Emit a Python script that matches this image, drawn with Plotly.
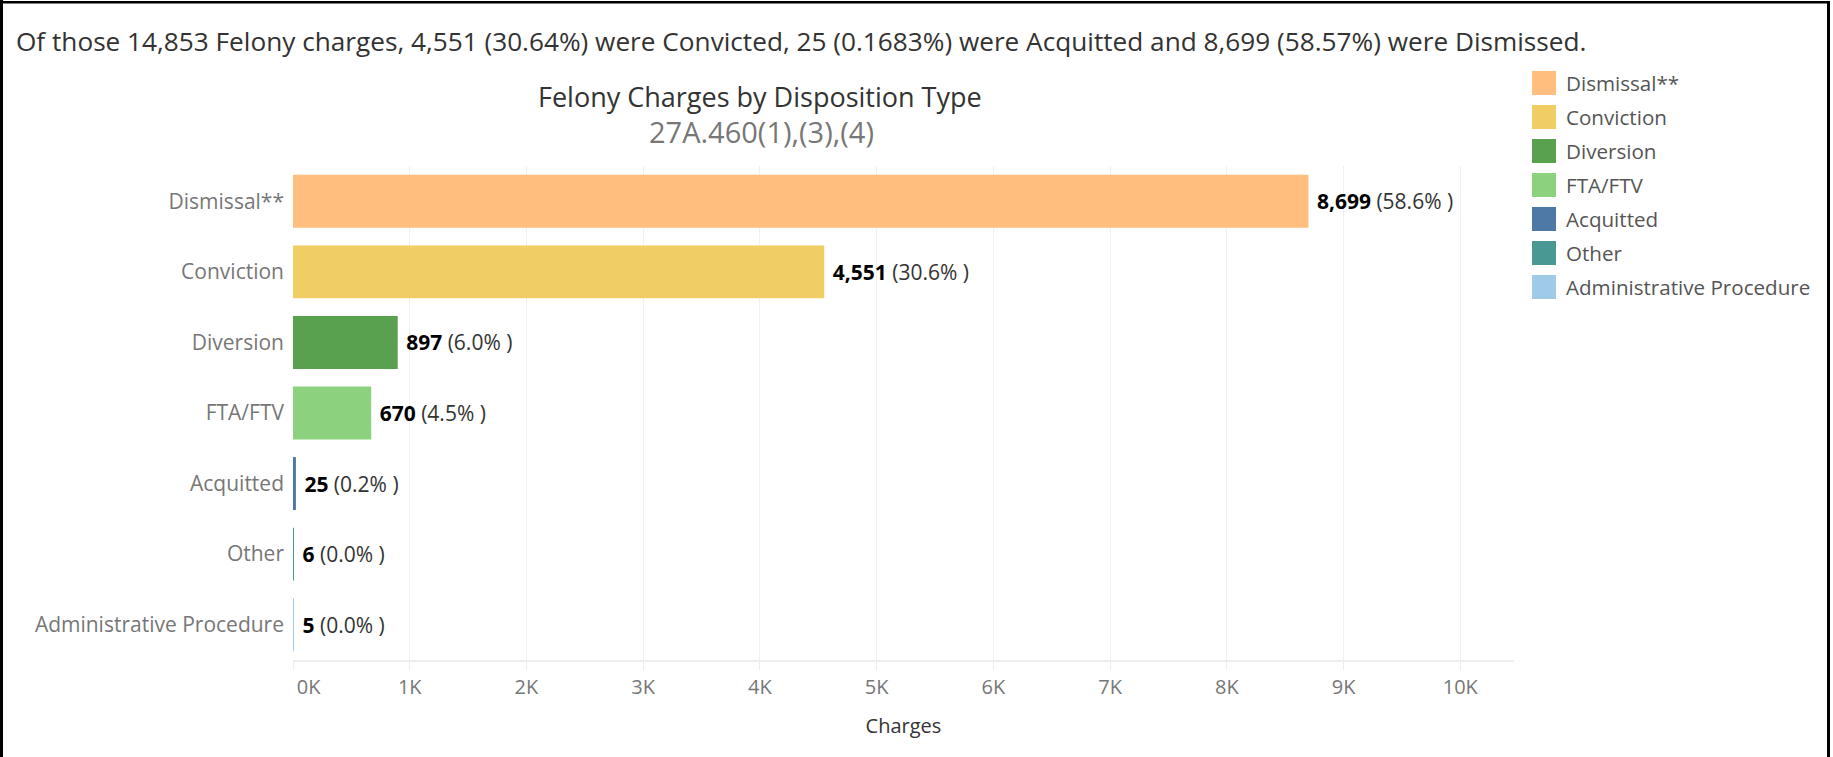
import plotly.graph_objects as go

categories = ["Dismissal**", "Conviction", "Diversion", "FTA/FTV", "Acquitted", "Other",
              "Administrative Procedure"]
charges = [8699, 4551, 897, 670, 25, 6, 5]
colors = ["#FFBE7D", "#F1CE63", "#59A14F", "#8CD17D", "#4E79A7", "#499894", "#A0CBE8"]
tick_vals = [0, 1000, 2000, 3000, 4000, 5000, 6000, 7000, 8000, 9000, 10000]
tick_text = ["0K", "1K", "2K", "3K", "4K", "5K", "6K", "7K", "8K", "9K", "10K"]

headline = ("Of those 14,853 Felony charges, 4,551 (30.64%) were Convicted, 25 (0.1683%) "
            "were Acquitted and 8,699 (58.57%) were Dismissed.")
title = "Felony Charges by Disposition Type"
subtitle = "27A.460(1),(3),(4)"

W, H = 1833, 757
L, R, T, B = 293, 1514, 166, 660
FONT = "Open Sans"

def px(x):
    return (x - L) / (R - L)

def py(y):
    return (B - y) / (B - T)

total = sum(charges)
labels = [f"\u00a0<b>{v:,}</b><span style='color:#333333'> ({v / total * 100:.1f}% )</span>"
          for v in charges]
# first tick label sits to the right of its gridline, as in the original
shown_ticks = ["\u00a0" * 6 + tick_text[0]] + tick_text[1:]

fig = go.Figure(go.Bar(
    y=categories, x=charges, orientation="h",
    marker=dict(color=colors, line=dict(width=0)),
    text=labels, textposition="outside", cliponaxis=False,
    textfont=dict(family=FONT, size=21, color="#000000"),
    showlegend=False, hoverinfo="x+y",
))

fig.update_layout(
    width=W, height=H,
    margin=dict(l=L, r=W - R, t=T, b=H - B, pad=0),
    paper_bgcolor="white", plot_bgcolor="white",
    font=dict(family=FONT, color="#777777", size=21),
    bargap=0.25,
    xaxis=dict(range=[0, 10460], tickvals=tick_vals, ticktext=shown_ticks,
               showgrid=True, gridcolor="#F0F0F0", gridwidth=1,
               zeroline=False, showline=True, linecolor="#EEEEEE", linewidth=2,
               ticks="outside", ticklen=8, tickcolor="#EEEEEE",
               tickfont=dict(size=20, color="#777777"),
               title=dict(text="Charges", font=dict(size=20, color="#333333"), standoff=20)),
    yaxis=dict(autorange="reversed", showgrid=False, zeroline=False, showline=False,
               ticks="", ticklabelstandoff=8, tickfont=dict(size=21, color="#777777")),
)

annotations = [
    dict(text=headline, x=px(14), y=py(41), xanchor="left", yanchor="middle",
         font=dict(size=26.2, color="#333333")),
    dict(text=title, x=px(760), y=py(96), xanchor="center", yanchor="middle",
         font=dict(size=27, color="#333333")),
    dict(text=subtitle, x=px(761), y=py(132), xanchor="center", yanchor="middle",
         font=dict(size=29, color="#777777")),
]
shapes = []
for i, (cat, col) in enumerate(zip(categories, colors)):
    cy = 83 + 34 * i
    shapes.append(dict(type="rect", xref="paper", yref="paper",
                       x0=px(1532), x1=px(1556), y0=py(cy + 12), y1=py(cy - 12),
                       fillcolor=col, line=dict(width=0)))
    annotations.append(dict(text=cat, x=px(1564), y=py(cy), xanchor="left", yanchor="middle",
                            font=dict(size=20.6, color="#555555")))
for a in annotations:
    a.update(xref="paper", yref="paper", showarrow=False)

# frame
shapes += [
    dict(type="rect", xref="paper", yref="paper", x0=px(0), x1=px(3), y0=py(H), y1=py(0),
         fillcolor="black", line=dict(width=0)),
    dict(type="rect", xref="paper", yref="paper", x0=px(0), x1=px(1830), y0=py(3.5), y1=py(1),
         fillcolor="black", line=dict(width=0)),
    dict(type="rect", xref="paper", yref="paper", x0=px(1827), x1=px(1830), y0=py(H), y1=py(1),
         fillcolor="black", line=dict(width=0)),
]
fig.update_layout(annotations=annotations, shapes=shapes)
fig.write_html("out.html", config={"displayModeBar": False},
               post_script="document.body.style.margin='0px';document.body.style.overflow='hidden';")
